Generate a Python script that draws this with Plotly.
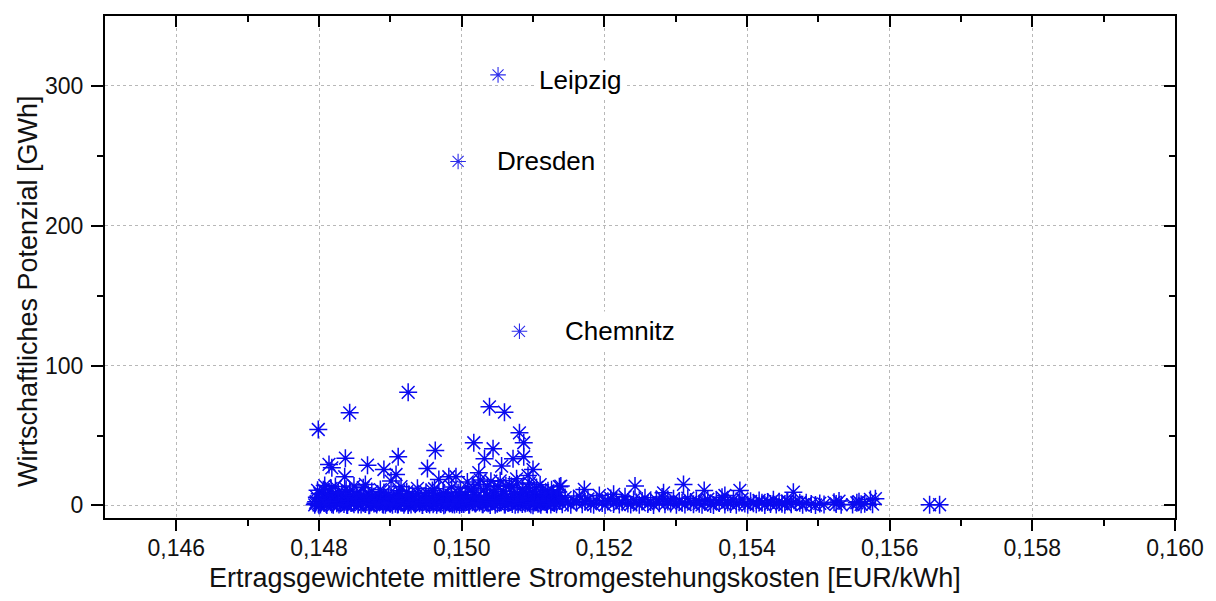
import plotly.graph_objects as go

# ---------------- data ----------------
cities = ["Leipzig", "Dresden", "Chemnitz"]
city_x = [0.15051, 0.14995, 0.15081]
city_y = [307.9, 246.0, 124.5]

# isolated points above the dense band
outliers = [
    (0.14799, 54.3), (0.14843, 66.2), (0.14925, 80.9), (0.15039, 70.5), (0.15060, 66.7),
    (0.15081, 51.9), (0.15087, 44.8), (0.15017, 44.8), (0.15044, 40.5), (0.14963, 39.3),
    (0.14911, 34.8), (0.14837, 33.8), (0.14814, 29.3), (0.14818, 26.9), (0.14868, 28.8),
    (0.14891, 25.7), (0.14908, 22.1), (0.14952, 26.4), (0.15032, 33.4), (0.15072, 33.4),
    (0.15087, 34.8), (0.15056, 28.1), (0.15024, 23.4), (0.15100, 25.7), (0.15093, 21.4),
    (0.14836, 20.5), (0.14865, 15.0), (0.15137, 13.4), (0.14968, 18.6), (0.14982, 20.5),
    (0.14992, 20.5), (0.14901, 17.4), (0.14915, 13.4), (0.14849, 13.8), (0.15139, 13.8),
    (0.15172, 11.4), (0.15243, 13.8), (0.15311, 15.0), (0.15340, 10.7), (0.15390, 10.7),
    (0.15465, 9.5), (0.15213, 7.9), (0.15283, 9.0), (0.15369, 7.1),
]

band_a = [
    (0.14794, 0.4), (0.14796, 2.7), (0.14797, 5.9), (0.14799, 1.2), (0.14801, 8.4),
    (0.14802, 0.6), (0.14804, 3.5), (0.14806, 11.2), (0.14807, 1.8), (0.14809, 6.3),
    (0.14811, 0.3), (0.14813, 4.1), (0.14814, 9.6), (0.14816, 2.2), (0.14818, 0.9),
    (0.14819, 7.4), (0.14821, 3.0), (0.14823, 13.5), (0.14825, 1.5), (0.14826, 5.2),
    (0.14828, 0.7), (0.14830, 2.8), (0.14832, 8.9), (0.14834, 4.6), (0.14835, 1.1),
    (0.14837, 6.8), (0.14839, 0.5), (0.14841, 3.3), (0.14843, 10.1), (0.14845, 2.0),
    (0.14847, 5.7), (0.14849, 0.8), (0.14851, 3.9), (0.14853, 7.1), (0.14855, 1.4),
    (0.14857, 4.8), (0.14859, 0.6), (0.14861, 2.5), (0.14863, 6.2), (0.14865, 1.0),
    (0.14867, 3.6), (0.14869, 8.0), (0.14871, 0.4), (0.14873, 2.1), (0.14875, 5.4),
    (0.14877, 1.3), (0.14879, 3.8), (0.14881, 0.7), (0.14883, 6.9), (0.14885, 2.4),
    (0.14887, 4.3), (0.14889, 1.0), (0.14891, 9.2), (0.14893, 0.5), (0.14895, 3.1),
    (0.14897, 5.0), (0.14899, 1.6),
]

band_b = [
    (0.14901, 2.3), (0.14903, 0.5), (0.14905, 4.7), (0.14907, 1.2), (0.14909, 7.6),
    (0.14911, 0.8), (0.14913, 3.4), (0.14915, 1.9), (0.14917, 5.8), (0.14919, 0.4),
    (0.14921, 2.9), (0.14923, 9.8), (0.14925, 1.3), (0.14927, 4.2), (0.14929, 0.6),
    (0.14931, 6.5), (0.14933, 2.0), (0.14935, 0.9), (0.14937, 3.7), (0.14939, 8.3),
    (0.14941, 1.5), (0.14943, 5.1), (0.14945, 0.3), (0.14947, 2.6), (0.14949, 7.0),
    (0.14951, 1.1), (0.14953, 4.4), (0.14955, 0.7), (0.14957, 3.0), (0.14959, 10.6),
    (0.14961, 1.8), (0.14963, 5.5), (0.14965, 0.5), (0.14967, 2.4), (0.14969, 6.1),
    (0.14971, 1.0), (0.14973, 3.9), (0.14975, 8.7), (0.14977, 0.6), (0.14979, 2.2),
    (0.14981, 4.9), (0.14983, 1.4), (0.14985, 7.3), (0.14987, 0.8), (0.14989, 3.2),
    (0.14991, 5.6), (0.14993, 1.2), (0.14995, 9.1), (0.14997, 0.4), (0.14999, 2.7),
]

band_c = [
    (0.15001, 4.1), (0.15003, 1.0), (0.15005, 7.8), (0.15007, 2.5), (0.15009, 12.4),
    (0.15011, 0.6), (0.15013, 5.3), (0.15015, 3.0), (0.15017, 9.5), (0.15019, 1.3),
    (0.15021, 6.6), (0.15023, 15.2), (0.15025, 2.1), (0.15027, 4.6), (0.15029, 0.8),
    (0.15031, 11.0), (0.15033, 3.4), (0.15035, 7.2), (0.15037, 1.6), (0.15039, 5.0),
    (0.15041, 17.3), (0.15043, 2.8), (0.15045, 8.9), (0.15047, 0.5), (0.15049, 4.3),
    (0.15051, 13.7), (0.15053, 1.9), (0.15055, 6.0), (0.15057, 3.1), (0.15059, 10.2),
    (0.15061, 0.7), (0.15063, 5.7), (0.15065, 2.3), (0.15067, 14.6), (0.15069, 4.0),
    (0.15071, 1.1), (0.15073, 8.1), (0.15075, 3.6), (0.15077, 19.0), (0.15079, 0.9),
    (0.15081, 6.4), (0.15083, 2.6), (0.15085, 11.8), (0.15087, 4.8), (0.15089, 1.4),
    (0.15091, 9.0), (0.15093, 3.3), (0.15095, 16.1), (0.15097, 0.6), (0.15099, 5.9),
    (0.15101, 2.0), (0.15103, 7.5), (0.15105, 12.9), (0.15107, 1.2), (0.15109, 4.5),
    (0.15111, 0.4), (0.15113, 8.4), (0.15115, 2.9), (0.15117, 5.2), (0.15119, 1.0),
    (0.15121, 10.5), (0.15123, 3.7), (0.15125, 0.7), (0.15127, 6.3), (0.15129, 2.2),
    (0.15131, 4.0), (0.15133, 0.9), (0.15135, 7.0),
]

band_mid = [
    (0.14798, 10.8), (0.14808, 14.2), (0.14817, 12.1), (0.14827, 9.3), (0.14838, 11.6),
    (0.14852, 8.6), (0.14862, 12.7), (0.14874, 9.9), (0.14886, 11.3), (0.14898, 8.2),
    (0.14912, 10.4), (0.14926, 7.9), (0.14938, 12.2), (0.14950, 9.5), (0.14962, 11.9),
    (0.14974, 8.8), (0.14986, 13.1), (0.14998, 10.0), (0.15008, 16.8), (0.15016, 12.3),
    (0.15026, 18.2), (0.15036, 13.9), (0.15046, 11.4), (0.15054, 17.6), (0.15062, 14.1),
    (0.15070, 12.8), (0.15078, 15.4), (0.15086, 9.7), (0.15094, 12.5), (0.15102, 10.3),
    (0.15110, 14.8), (0.15118, 8.5), (0.15126, 11.2), (0.15134, 9.1),
]

band_low = [
    (0.14795, 1.6), (0.14800, 0.2), (0.14805, 2.9), (0.14810, 1.0), (0.14815, 3.6),
    (0.14820, 0.5), (0.14825, 2.2), (0.14830, 1.3), (0.14835, 3.9), (0.14840, 0.3),
    (0.14845, 1.8), (0.14850, 2.6), (0.14855, 0.6), (0.14860, 3.3), (0.14865, 1.1),
    (0.14870, 0.2), (0.14875, 2.7), (0.14880, 1.5), (0.14885, 3.8), (0.14890, 0.4),
    (0.14895, 2.0), (0.14900, 1.2), (0.14905, 3.1), (0.14910, 0.7), (0.14915, 2.4),
    (0.14920, 1.6), (0.14925, 0.3), (0.14930, 3.5), (0.14935, 1.0), (0.14940, 2.8),
    (0.14945, 0.5), (0.14950, 1.9), (0.14955, 3.2), (0.14960, 0.8), (0.14965, 2.1),
    (0.14970, 1.4), (0.14975, 0.2), (0.14980, 3.7), (0.14985, 1.7), (0.14990, 0.6),
    (0.14995, 2.5), (0.15000, 1.1), (0.15005, 3.4), (0.15010, 0.4), (0.15015, 2.3),
    (0.15020, 1.5), (0.15025, 3.0), (0.15030, 0.9), (0.15035, 2.0), (0.15040, 0.3),
    (0.15045, 3.6), (0.15050, 1.2), (0.15055, 2.6), (0.15060, 0.7), (0.15065, 1.8),
    (0.15070, 3.3), (0.15075, 0.5), (0.15080, 2.2), (0.15085, 1.0), (0.15090, 3.9),
    (0.15095, 1.6), (0.15100, 0.2), (0.15105, 2.8), (0.15110, 1.3), (0.15115, 3.1),
    (0.15120, 0.6), (0.15125, 2.4), (0.15130, 1.7),
]

band_d = [
    (0.15137, 3.2), (0.15141, 0.8), (0.15145, 5.6), (0.15149, 1.9), (0.15153, 0.4),
    (0.15157, 3.8), (0.15161, 2.1), (0.15165, 6.7), (0.15169, 0.9), (0.15173, 2.7),
    (0.15177, 4.6), (0.15181, 1.2), (0.15185, 0.5), (0.15189, 3.4), (0.15193, 7.1),
    (0.15197, 1.7), (0.15201, 0.3), (0.15205, 2.9), (0.15209, 5.0), (0.15213, 1.1),
    (0.15217, 3.6), (0.15221, 0.6), (0.15225, 2.3), (0.15229, 6.2), (0.15233, 1.4),
    (0.15237, 0.7), (0.15241, 4.2), (0.15245, 2.0), (0.15249, 0.4), (0.15253, 3.1),
    (0.15257, 5.4), (0.15261, 1.0), (0.15265, 2.5), (0.15269, 0.3), (0.15273, 4.0),
    (0.15277, 1.6), (0.15281, 6.0), (0.15285, 0.8), (0.15289, 2.8), (0.15293, 1.3),
    (0.15297, 4.8), (0.15301, 0.5), (0.15305, 3.0), (0.15309, 1.9), (0.15313, 0.6),
    (0.15317, 5.2), (0.15321, 2.4), (0.15325, 0.9), (0.15329, 3.7), (0.15333, 1.2),
    (0.15337, 0.4), (0.15341, 2.6), (0.15345, 4.4), (0.15349, 1.0), (0.15353, 0.3),
    (0.15357, 3.3), (0.15361, 1.7), (0.15365, 5.8), (0.15369, 0.7), (0.15373, 2.2),
    (0.15377, 1.1), (0.15381, 3.9), (0.15385, 0.5), (0.15389, 2.0), (0.15393, 4.6),
    (0.15397, 1.3), (0.15401, 0.4), (0.15405, 2.9), (0.15409, 1.5), (0.15413, 0.8),
    (0.15417, 3.5), (0.15421, 1.9), (0.15425, 0.3), (0.15429, 2.4), (0.15433, 1.0),
    (0.15437, 4.1), (0.15441, 0.6), (0.15445, 2.7), (0.15449, 1.2), (0.15453, 0.5),
    (0.15457, 3.0),
]

tail = [
    (0.15456, 3.1), (0.15462, 0.9), (0.15468, 2.4), (0.15474, 1.9), (0.15478, 0.5),
    (0.15483, 1.9), (0.15490, 1.1), (0.15496, 0.3), (0.15502, 1.4), (0.15508, 0.7),
    (0.15522, 2.2), (0.15525, 1.0), (0.15529, 3.1), (0.15532, 0.4), (0.15548, 0.6),
    (0.15554, 1.9), (0.15557, 2.6), (0.15560, 0.8), (0.15565, 1.2), (0.15573, 4.3),
    (0.15576, 0.9), (0.15580, 4.8), (0.15656, 0.5), (0.15670, 0.5),
]

x_ticks = [0.146, 0.148, 0.150, 0.152, 0.154, 0.156, 0.158, 0.160]
x_minor = [0.147, 0.149, 0.151, 0.153, 0.155, 0.157, 0.159]
y_ticks = [0, 100, 200, 300]
y_minor = [50, 150, 250]

x_title = "Ertragsgewichtete mittlere Stromgestehungskosten [EUR/kWh]"
y_title = "Wirtschaftliches Potenzial [GWh]"

# ---------------- figure ----------------
points = band_low + band_a + band_b + band_c + band_mid + band_d + tail + outliers
px = [p[0] for p in points]
py = [p[1] for p in points]

BLUE = "rgb(10,10,240)"
CITY_BLUE = "rgb(45,45,235)"
FONT = "Liberation Sans, Arial, sans-serif"
TXT = "#111111"

fig = go.Figure()
fig.add_trace(go.Scatter(
    x=px, y=py, mode="markers", showlegend=False, hoverinfo="x+y",
    marker=dict(symbol="asterisk-open", size=15, color=BLUE,
                line=dict(color=BLUE, width=1.5)),
))
fig.add_trace(go.Scatter(
    x=city_x, y=city_y, mode="markers", showlegend=False, text=cities,
    xaxis="x2", yaxis="y2",
    marker=dict(symbol="asterisk-open", size=13, color=CITY_BLUE,
                line=dict(color=CITY_BLUE, width=1.1)),
))

label_shift = {"Leipzig": (36, -5), "Dresden": (34, 0), "Chemnitz": (41, 0)}
for name, cx, cy in zip(cities, city_x, city_y):
    dx, dy = label_shift[name]
    fig.add_annotation(x=cx, y=cy, xref="x", yref="y", text=name, showarrow=False,
                       xanchor="left", yanchor="middle", xshift=dx, yshift=dy,
                       bgcolor="white", borderpad=4,
                       font=dict(family=FONT, size=26, color="black"))

# axis titles (placed like in the reference)
fig.add_annotation(text=x_title, xref="paper", yref="paper", x=0.5, y=0,
                   xshift=-55, yshift=-60, xanchor="center", yanchor="middle",
                   showarrow=False, font=dict(family=FONT, size=27, color=TXT))
fig.add_annotation(text=y_title, xref="paper", yref="paper", x=0, y=0.5,
                   xshift=-77, yshift=-24, xanchor="center", yanchor="middle",
                   textangle=-90, showarrow=False,
                   font=dict(family=FONT, size=27, color=TXT))

axis_common = dict(showline=True, linewidth=2, linecolor="black", zeroline=False,
                   tickwidth=2, tickcolor="black")

fig.update_layout(
    width=1216, height=601,
    margin=dict(l=105, r=30, t=16, b=83),
    paper_bgcolor="white", plot_bgcolor="white",
    separators=",.",
    font=dict(family=FONT, color="black"),
    xaxis=dict(
        range=[0.145, 0.160], tickvals=x_ticks, tickformat=".3f",
        ticks="outside", ticklen=11, ticklabelstandoff=-3,
        showgrid=True, gridcolor="#b8b8b8", griddash="dot", gridwidth=1,
        minor=dict(tickvals=x_minor, ticks="outside", ticklen=6, tickwidth=2,
                   tickcolor="black", showgrid=False),
        tickfont=dict(size=23, color=TXT),
        **axis_common,
    ),
    yaxis=dict(
        range=[-9, 350], tickvals=y_ticks,
        ticks="outside", ticklen=12, ticklabelstandoff=3,
        showgrid=True, gridcolor="#b8b8b8", griddash="dot", gridwidth=1,
        minor=dict(tickvals=y_minor, ticks="outside", ticklen=6, tickwidth=2,
                   tickcolor="black", showgrid=False),
        tickfont=dict(size=23, color=TXT),
        **axis_common,
    ),
    xaxis2=dict(
        overlaying="x", side="top", matches="x", anchor="y2",
        tickvals=x_ticks, ticks="inside", ticklen=11, showticklabels=False, showgrid=False,
        minor=dict(tickvals=x_minor, ticks="inside", ticklen=6, tickwidth=2,
                   tickcolor="black", showgrid=False),
        **axis_common,
    ),
    yaxis2=dict(
        overlaying="y", side="right", matches="y", anchor="x2",
        tickvals=y_ticks, ticks="inside", ticklen=11, showticklabels=False, showgrid=False,
        minor=dict(tickvals=y_minor, ticks="inside", ticklen=6, tickwidth=2,
                   tickcolor="black", showgrid=False),
        **axis_common,
    ),
)

fig.write_html("out.html")
